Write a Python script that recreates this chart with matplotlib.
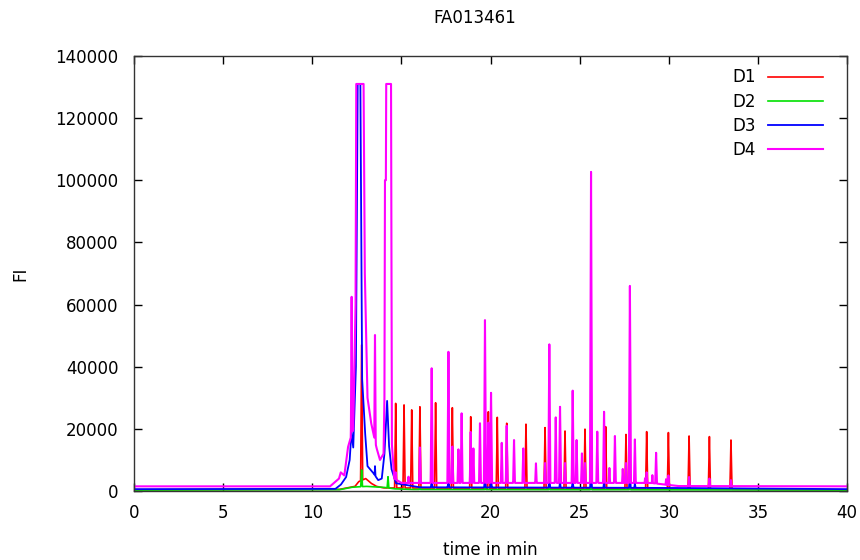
import numpy as np
import matplotlib
matplotlib.use("Agg")
import matplotlib.pyplot as plt

# time axis of the recorded traces (min)
t = np.linspace(0, 40, 4001)
SPIKE_HW = 0.06  # half width of a sharp peak in min

# --- D1 (red) ---
d1_env_t = [0, 11.5, 12.4, 12.6, 13.0, 13.3, 13.6, 14.0, 40]
d1_env_v = [400, 500, 1500, 3000, 4000, 2500, 1500, 1000, 400]
d1_peak_t = [12.77, 14.68, 15.15, 15.58, 16.04, 16.92, 17.86, 18.89, 19.88, 20.38,
             20.91, 21.99, 23.06, 24.18, 25.30, 26.46, 27.60, 28.76, 29.98, 31.14,
             32.28, 33.49]
d1_peak_v = [47000, 28200, 27700, 26100, 27100, 28400, 26800, 23900, 25500, 23700,
             21800, 21500, 20400, 19300, 19900, 20700, 18200, 19100, 18800, 17700,
             17500, 16400]

# --- D2 (green) ---
d2_env_t = [0, 11.5, 12.2, 13.0, 14.0, 14.6, 15.5, 40]
d2_env_v = [300, 400, 1200, 1500, 1200, 700, 500, 300]
d2_peak_t = [12.77, 14.25, 16.04, 19.7, 23.3, 25.64, 27.82]
d2_peak_v = [6800, 4600, 1200, 1300, 1200, 1500, 1300]

# --- D3 (blue) ---
d3_env_t = [0, 11.3, 11.6, 11.9, 12.1, 12.2, 12.3, 12.45, 12.55, 12.7, 12.8, 12.95,
            13.1, 13.4, 13.7, 13.9, 14.05, 14.2, 14.3, 14.45, 14.7, 16.0, 30.0, 40]
d3_env_v = [600, 700, 2000, 4500, 10000, 19000, 14000, 40000, 131000, 131000, 36000,
            20000, 8000, 6000, 3500, 4000, 12000, 29000, 15000, 7000, 2500, 1200,
            1000, 600]
d3_peak_t = [13.52, 16.70, 17.64, 19.69, 20.03, 23.30, 23.90, 24.61, 25.64, 26.37,
             27.82, 28.10]
d3_peak_v = [8000, 4000, 4500, 5000, 3500, 4500, 3000, 3500, 9000, 3000, 6000, 2500]

# --- D4 (magenta) ---
d4_env_t = [0, 11.0, 11.5, 11.6, 11.8, 12.0, 12.3, 12.43, 12.47, 12.88, 12.95, 13.1,
            13.3, 13.6, 13.8, 14.0, 14.05, 14.08, 14.13, 14.15, 14.42, 14.47, 14.6,
            15.0, 29.0, 30.5, 40]
d4_env_v = [1500, 1500, 4000, 6000, 5000, 14000, 20000, 60000, 131000, 131000, 70000,
            30000, 22000, 14000, 10000, 12000, 30000, 100000, 100000, 131000, 131000,
            15000, 4000, 2600, 2600, 1600, 1500]
d4_peak_t = [12.21, 13.52, 14.68, 15.4, 16.04, 16.70, 17.64, 17.86, 18.20, 18.38,
             18.89, 19.04, 19.41, 19.69, 19.88, 20.03, 20.63, 20.91, 21.32, 21.84,
             22.55, 23.06, 23.30, 23.66, 23.90, 24.18, 24.61, 24.83, 25.13, 25.30,
             25.64, 25.99, 26.37, 26.67, 26.98, 27.42, 27.60, 27.82, 28.10, 28.67,
             28.76, 29.08, 29.29, 29.85, 29.98, 31.14, 32.28, 33.49]
d4_peak_v = [62500, 50200, 6000, 4600, 14000, 39500, 44800, 14300, 13400, 25000,
             19000, 13700, 21800, 55000, 22000, 31600, 15500, 21000, 16400, 13700,
             8900, 9000, 47200, 23700, 27100, 9000, 32300, 16400, 12100, 9000,
             102700, 19100, 25500, 7400, 17700, 7100, 9000, 66000, 16600, 4100,
             6000, 5100, 12300, 3800, 5000, 4500, 4000, 3500]


def trace(env_t, env_v, peak_t, peak_v):
    y = np.interp(t, env_t, env_v)
    for tp, h in zip(peak_t, peak_v):
        tri = h * (1 - np.abs(t - tp) / SPIKE_HW)
        y = np.maximum(y, tri)
    return y


fig = plt.figure(figsize=(8.6, 5.6), dpi=100)
ax = fig.add_axes([0.1558, 0.1232, 0.8291, 0.7768])

ax.plot(t, trace(d1_env_t, d1_env_v, d1_peak_t, d1_peak_v), color="#ff0000", lw=1.2, label="D1")
ax.plot(t, trace(d2_env_t, d2_env_v, d2_peak_t, d2_peak_v), color="#00e000", lw=1.2, label="D2")
ax.plot(t, trace(d3_env_t, d3_env_v, d3_peak_t, d3_peak_v), color="#0000ff", lw=1.3, label="D3")
ax.plot(t, trace(d4_env_t, d4_env_v, d4_peak_t, d4_peak_v), color="#ff00ff", lw=1.5, label="D4")

ax.set_xlim(0, 40)
ax.set_ylim(0, 140000)
ax.set_xticks(range(0, 41, 5))
ax.set_yticks(range(0, 140001, 20000))
ax.tick_params(direction="in", top=True, right=True, length=6, width=1, labelsize=12)
ax.tick_params(axis="y", pad=11)
ax.tick_params(axis="x", pad=9)
for s in ax.spines.values():
    s.set_linewidth(1.0)
    s.set_color("#333333")

fig.text(475 / 860, 1 - 18 / 560, "FA013461", ha="center", va="center", fontsize=12)
ax.set_xlabel("time in min", fontsize=12, labelpad=14)
ax.set_ylabel("FI", fontsize=12, labelpad=19)

leg = ax.legend(loc="upper right", bbox_to_anchor=(0.987, 1.006), frameon=False,
                markerfirst=False, fontsize=12, handlelength=3.3, labelspacing=0.37,
                handletextpad=0.7)

fig.savefig("out.png", dpi=100)
